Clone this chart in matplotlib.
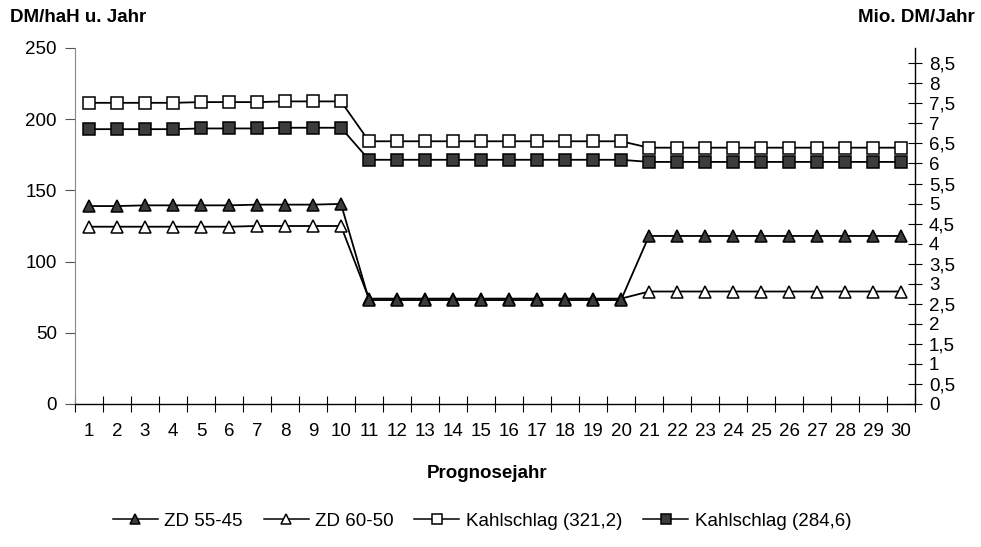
import matplotlib.pyplot as plt
import numpy as np
from matplotlib.lines import Line2D

plt.rcParams['font.family'] = ['Liberation Sans', 'DejaVu Sans']

# Prognosejahr 1..30
years = np.arange(1, 31)

# Values (DM/haH u. Jahr)
zd_55_45 = [139, 139, 139.5, 139.5, 139.5, 139.5, 140, 140, 140, 140.5] + [73] * 10 + [118] * 10
zd_60_50 = [124.5, 124.5, 124.5, 124.5, 124.5, 124.5, 125, 125, 125, 125] + [74] * 10 + [79] * 10
kahl_321 = [211.5, 211.5, 211.5, 211.5, 212, 212, 212, 212.5, 212.5, 212.5] + [184.5] * 10 + [180] * 10
kahl_284 = [193, 193, 193, 193, 193.5, 193.5, 193.5, 194, 194, 194] + [171.5] * 10 + [170] * 10

left_ticks = [0, 50, 100, 150, 200, 250]
right_ticks = np.arange(0, 9, 0.5)
right_labels = [('%g' % v).replace('.', ',') for v in right_ticks]

FILL = '#3c3c3c'
FS = 13.5


def create_figure():
    fig = plt.figure(figsize=(9.81, 5.47), dpi=100)
    ax = fig.add_axes([75 / 981, 1 - 404 / 547, 840 / 981, 356 / 547])

    style = dict(color='black', linewidth=1.3, markersize=8.5, markeredgewidth=1.1,
                 markeredgecolor='black')
    ax.plot(years, kahl_321, marker='s', markerfacecolor='white', **style)
    ax.plot(years, kahl_284, marker='s', markerfacecolor=FILL, **style)
    ax.plot(years, zd_60_50, marker='^', markerfacecolor='white', **style)
    ax.plot(years, zd_55_45, marker='^', markerfacecolor=FILL, **style)

    ax.set_xlim(0.5, 30.5)
    ax.set_ylim(0, 250)
    ax.set_xticks(years)
    ax.set_xticklabels([str(y) for y in years], fontsize=FS)
    ax.set_xticks(np.arange(0.5, 31, 1), minor=True)
    ax.tick_params(axis='x', which='major', length=0, pad=14)
    ax.tick_params(axis='x', which='minor', direction='inout', length=11, width=0.8)

    ax.set_yticks(left_ticks)
    ax.set_yticklabels([str(v) for v in left_ticks], fontsize=FS)
    ax.tick_params(axis='y', direction='out', length=7, width=0.8, pad=6, color='#555555')

    ax.spines['top'].set_visible(False)
    ax.spines['right'].set_visible(False)
    ax.spines['left'].set_color('#888888')
    ax.spines['left'].set_linewidth(0.8)
    ax.spines['bottom'].set_linewidth(1.0)

    # Right axis: Mio. DM/Jahr
    ax2 = ax.twinx()
    ax2.set_ylim(0, 8.88)
    ax2.set_yticks(right_ticks)
    ax2.set_yticklabels(right_labels, fontsize=FS)
    ax2.tick_params(axis='y', direction='inout', length=10, width=0.8, pad=5)
    ax2.spines['top'].set_visible(False)
    ax2.spines['left'].set_visible(False)
    ax2.spines['bottom'].set_visible(False)
    ax2.spines['right'].set_linewidth(1.0)

    fig.text(10 / 981, 1 - 17 / 547, 'DM/haH u. Jahr', fontsize=FS, fontweight='bold',
             ha='left', va='center')
    fig.text(975 / 981, 1 - 17 / 547, 'Mio. DM/Jahr', fontsize=FS, fontweight='bold',
             ha='right', va='center')
    fig.text(487 / 981, 1 - 473 / 547, 'Prognosejahr', fontsize=FS, fontweight='bold',
             ha='center', va='center')

    leg_style = dict(style, markersize=7, linewidth=1.1)
    handles = [
        Line2D([], [], marker='^', markerfacecolor=FILL, **leg_style),
        Line2D([], [], marker='^', markerfacecolor='white', **leg_style),
        Line2D([], [], marker='s', markerfacecolor='white', **leg_style),
        Line2D([], [], marker='s', markerfacecolor=FILL, **leg_style),
    ]
    labels = ['ZD 55-45', 'ZD 60-50', 'Kahlschlag (321,2)', 'Kahlschlag (284,6)']
    fig.legend(handles, labels, loc='center', bbox_to_anchor=(482 / 981, 1 - 521 / 547),
               ncol=4, frameon=False, fontsize=FS, handlelength=2.4,
               handletextpad=0.35, columnspacing=1.1)

    fig.savefig('out.png', dpi=100, facecolor='white')
    plt.close(fig)


if __name__ == "__main__":
    create_figure()
